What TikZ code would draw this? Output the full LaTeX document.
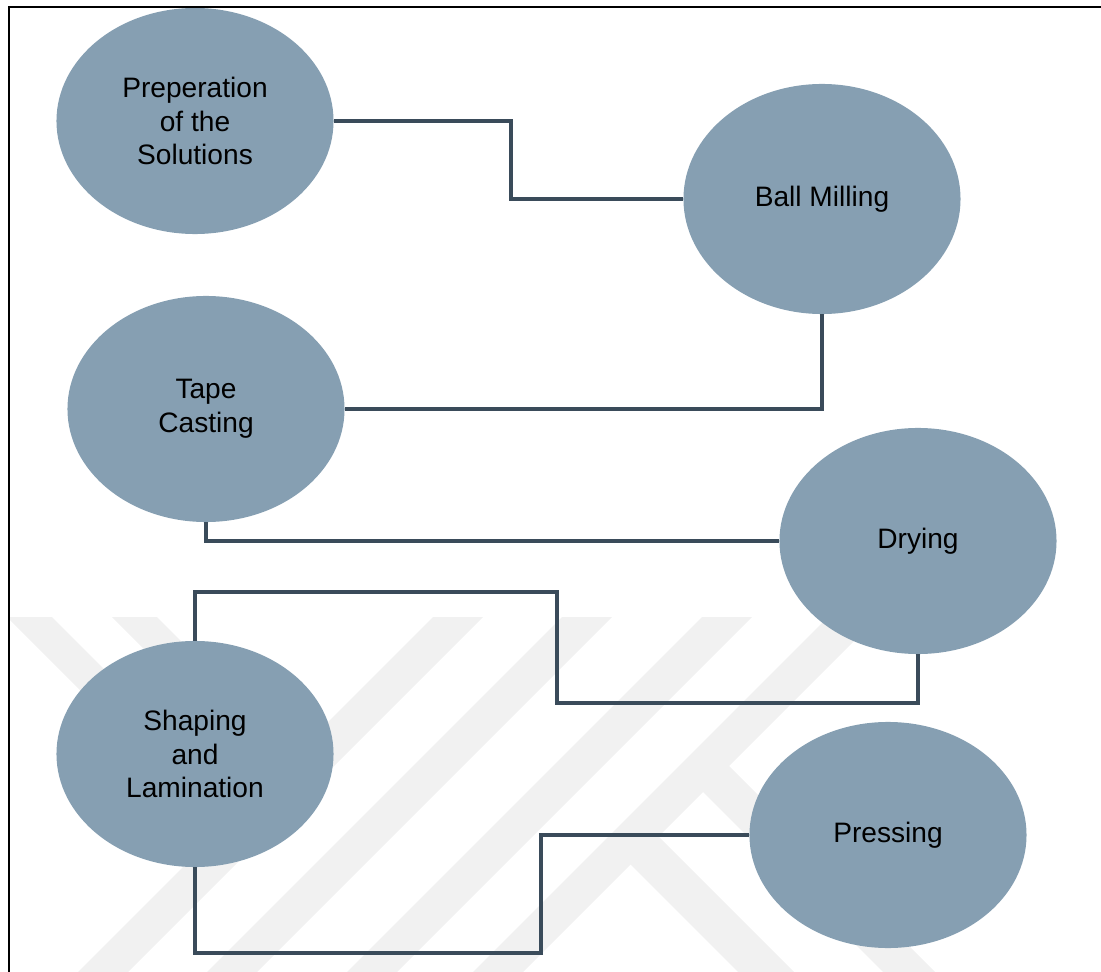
\documentclass[tikz,border=0pt]{standalone}
\usepackage{fontspec}
\setmainfont{Liberation Sans}
\usepackage{tikz}
\usetikzlibrary{shapes.geometric, positioning}
\definecolor{stagefill}{RGB}{134,159,178}
\definecolor{linkdark}{RGB}{58,75,90}
\definecolor{wmgray}{RGB}{241,241,241}
\tikzset{
  stage/.style={ellipse, fill=stagefill, draw=none,
    minimum width=6.925cm, minimum height=5.65cm, inner sep=0pt,
    align=center, text=black, font=\fontsize{20}{24}\selectfont},
  link/.style={line width=2.6pt, color=linkdark},
  framed/.style={line width=1.8pt, color=black},
  wmark/.style={fill=wmgray, draw=none}
}

\begin{document}
\begin{tikzpicture}[x=0.025cm, y=-0.025cm]
  \useasboundingbox (0,0) rectangle (1101,972);

  % faint watermark in the lower part
  \begin{scope}
    \clip (10,617) rectangle (1101,972);
    \foreach \cc in {1075,1204,1344,1470} {
      \fill[wmark] ({\cc-642},617) -- ({\cc-592},617) -- ({\cc-947},972) -- ({\cc-997},972) -- cycle;
    }
    \fill[wmark] (690.5,779.5) -- (716.5,753.5) -- (935,972) -- (883,972) -- cycle;
    \fill[wmark] (618,852) -- (646,824) -- (794,972) -- (738,972) -- cycle;
    \fill[wmark] (7,617) -- (52,617) -- (255,820) -- (232.5,842.5) -- cycle;
    \fill[wmark] (112,617) -- (157,617) -- (307.5,767.5) -- (285,790) -- cycle;
  \end{scope}

  \node[stage] (prep) at (195,121) {Preperation\\of the\\Solutions};
  \node[stage, minimum height=5.75cm] (mill) at (822,199) {Ball Milling};
  \node[stage] (cast) at (206,409) {Tape\\Casting};
  \node[stage] (dry) at (918,541) {Drying};
  \node[stage] (shape) at (195,754) {Shaping\\and\\Lamination};
  \node[stage] (press) at (888,835) {Pressing};

  \draw[link] (prep.east) -- ++(177,0) |- (mill.west);
  \draw[link] (mill.south) |- (cast.east);
  \draw[link] (cast.south) |- (dry.west);
  \draw[link] (shape.north) -- ++(0,-49) -| ++(362,111) -| (dry.south);
  \draw[link] (shape.south) -- ++(0,86) -- ++(346,0) |- (press.west);

  \draw[framed] (9,972) -- (9,7) -- (1101,7);
\end{tikzpicture}
\end{document}
